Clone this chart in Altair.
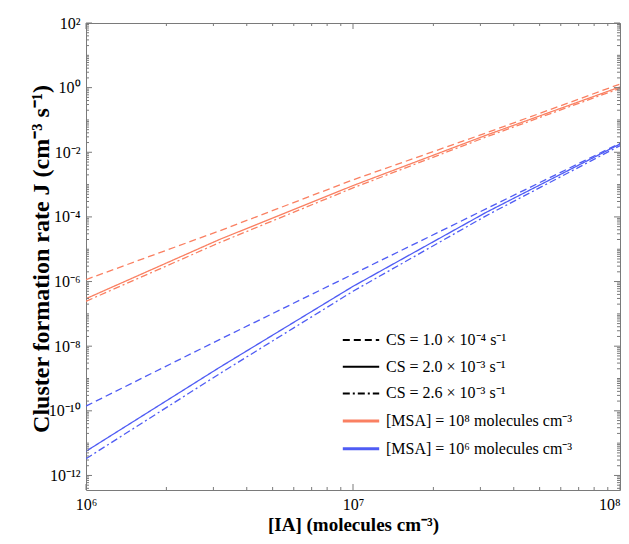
import altair as alt
import pandas as pd

# ---------------- data ----------------
IA = [1e6, 3.162e6, 1e7, 3.162e7, 1e8]

MSA_LABELS = ["[MSA] = 10⁸ molecules cm⁻³", "[MSA] = 10⁶ molecules cm⁻³"]
CS_LABELS = ["CS = 1.0 × 10⁻⁴ s⁻¹", "CS = 2.0 × 10⁻³ s⁻¹", "CS = 2.6 × 10⁻³ s⁻¹"]

J_MSA8_CS1 = [1.15e-6, 3.7e-5, 1.4e-3, 4.0e-2, 1.29]
J_MSA8_CS2 = [2.95e-7, 2.0e-5, 9.3e-4, 3.4e-2, 1.05]
J_MSA8_CS3 = [2.45e-7, 1.6e-5, 7.9e-4, 3.0e-2, 0.95]
J_MSA6_CS1 = [1.4e-10, 1.6e-8, 1.7e-6, 1.8e-4, 1.9e-2]
J_MSA6_CS2 = [5.6e-12, 2.2e-9, 7.1e-7, 1.4e-4, 1.8e-2]
J_MSA6_CS3 = [3.3e-12, 1.4e-9, 5.0e-7, 1.1e-4, 1.6e-2]

Y_LABEL_VALUES = [1e-12, 1e-10, 1e-8, 1e-6, 1e-4, 1e-2, 1e0, 1e2]
Y_TICK_LABELS = ["10⁻¹²", "10⁻¹⁰", "10⁻⁸", "10⁻⁶", "10⁻⁴", "10⁻²", "10⁰", "10²"]
X_LABEL_VALUES = [1e6, 1e7, 1e8]
X_TICK_LABELS = ["10⁶", "10⁷", "10⁸"]

X_TITLE = "[IA] (molecules cm⁻³)"
Y_TITLE = "Cluster formation rate J (cm⁻³ s⁻¹)"

# ---------------- styling ----------------
ORANGE = "#FA8062"
BLUE = "#4F5CF4"
AXIS_GREY = "#7a7a7a"
SERIF = "Liberation Serif"
W, H = 534, 467
YMIN, YMAX = 10 ** -12.45, 100.0

series = [
    (MSA_LABELS[0], CS_LABELS[0], J_MSA8_CS1),
    (MSA_LABELS[0], CS_LABELS[1], J_MSA8_CS2),
    (MSA_LABELS[0], CS_LABELS[2], J_MSA8_CS3),
    (MSA_LABELS[1], CS_LABELS[0], J_MSA6_CS1),
    (MSA_LABELS[1], CS_LABELS[1], J_MSA6_CS2),
    (MSA_LABELS[1], CS_LABELS[2], J_MSA6_CS3),
]
rows = []
for msa, cs, vals in series:
    for ia, j in zip(IA, vals):
        rows.append({"ia": ia, "J": j, "msa": msa, "cs": cs})
df = pd.DataFrame(rows)

xscale = alt.Scale(type="log", domain=[1e6, 1e8])
yscale = alt.Scale(type="log", domain=[YMIN, YMAX])

y_label_expr = "[" + ",".join("'%s'" % s for s in Y_TICK_LABELS) + "][round((log(datum.value)/LN10+12)/2)]"
x_label_expr = "[" + ",".join("'%s'" % s for s in X_TICK_LABELS) + "][round(log(datum.value)/LN10)-6]"

LEG_PATH = "M-2.6,0L2.6,0"

main = alt.Chart(df).mark_line(clip=True, strokeWidth=1.3).encode(
    x=alt.X("ia:Q", scale=xscale, axis=alt.Axis(
        values=X_LABEL_VALUES, labelExpr=x_label_expr, ticks=False, domain=False, grid=False,
        labelFont=SERIF, labelFontSize=16, labelColor="black", labelPadding=6, labelFlush=False,
        labelAlign=alt.ExprRef(expr="datum.value >= 99999999 ? 'right' : 'center'"),
        title=X_TITLE, titleFont=SERIF, titleFontSize=19, titleFontWeight="bold", titleColor="black",
        titleX=W / 2, titleY=40, titleBaseline="alphabetic", titleAlign="center")),
    y=alt.Y("J:Q", scale=yscale, axis=alt.Axis(
        values=Y_LABEL_VALUES, labelExpr=y_label_expr, ticks=False, domain=False, grid=False,
        labelFont=SERIF, labelFontSize=16, labelColor="black", labelPadding=6, labelFlush=False,
        title=Y_TITLE, titleFont=SERIF, titleFontSize=24, titleFontWeight="bold", titleColor="black",
        titleX=-45, titleY=H / 2 + 2, titleAngle=270, titleBaseline="middle", titleAlign="center")),
    color=alt.Color("msa:N", scale=alt.Scale(domain=MSA_LABELS, range=[ORANGE, BLUE]),
                    legend=alt.Legend(orient="none", legendX=266.5, legendY=389.5, title=None,
                                      symbolType=LEG_PATH, symbolSize=196, symbolStrokeWidth=3,
                                      labelFont=SERIF, labelFontSize=16, labelColor="black",
                                      labelOffset=16.5, rowPadding=10.7, labelLimit=400, padding=0)),
    strokeDash=alt.StrokeDash("cs:N", scale=alt.Scale(domain=CS_LABELS, range=[[7, 4], [1, 0], [7, 3, 2, 3]]),
                              legend=alt.Legend(orient="none", legendX=267, legendY=309, title=None,
                                                symbolType=LEG_PATH, symbolSize=196, symbolStrokeWidth=2,
                                                symbolStrokeColor="black",
                                                labelFont=SERIF, labelFontSize=16, labelColor="black",
                                                labelOffset=17, rowPadding=10.7, labelLimit=400, padding=0)),
)

# tick positions (inward ticks on all four sides)
y_major = [10.0 ** e for e in range(-12, 3, 2)]
y_minor = [m * 10.0 ** e for e in range(-13, 2) for m in range(1, 10)
           if YMIN <= m * 10.0 ** e <= YMAX and not (m == 1 and e % 2 == 0)]
x_major = [1e6, 1e7, 1e8]
x_minor = [m * 10.0 ** e for e in (6, 7) for m in range(2, 10)]


def yticks(vals, x0, x1):
    return alt.Chart(pd.DataFrame({"J": vals})).mark_rule(color=AXIS_GREY, strokeWidth=1).encode(
        y=alt.Y("J:Q", scale=yscale), x=alt.value(x0), x2=alt.value(x1))


def xticks(vals, y0, y1):
    return alt.Chart(pd.DataFrame({"ia": vals})).mark_rule(color=AXIS_GREY, strokeWidth=1).encode(
        x=alt.X("ia:Q", scale=xscale), y=alt.value(y0), y2=alt.value(y1))


layers = [
    main,
    yticks(y_major, 0, 6), yticks(y_minor, 0, 3),
    yticks(y_major, W, W - 6), yticks(y_minor, W, W - 3),
    xticks(x_major, H, H - 6), xticks(x_minor, H, H - 3),
    xticks(x_major, 0, 6), xticks(x_minor, 0, 3),
]

chart = alt.layer(*layers).properties(
    width=W, height=H,
    autosize=alt.AutoSizeParams(type="none"),
    padding={"left": 78, "top": 15, "right": 1, "bottom": 46},
    background="white",
).configure_view(stroke=AXIS_GREY, strokeWidth=1)

chart.save("out.html", embed_options={"renderer": "svg", "actions": False})
